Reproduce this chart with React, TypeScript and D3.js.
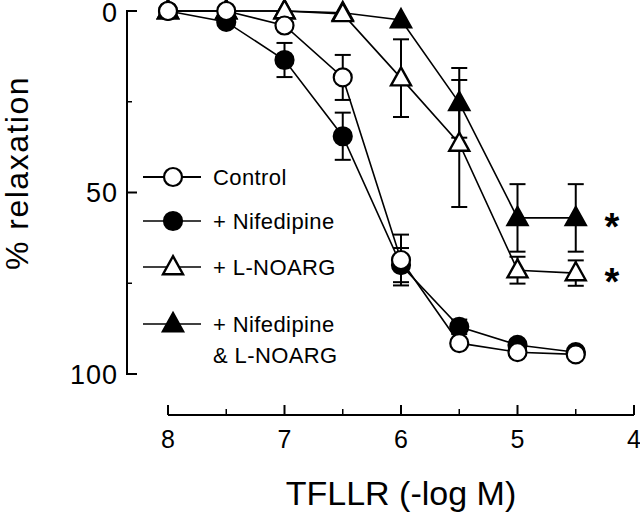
import React from 'react';
import * as d3 from 'd3';

// TFLLR concentration (-log M)
const doses = [8, 7.5, 7, 6.5, 6, 5.5, 5, 4.5];

const control = [0, 0, 4, 18.3, 68.6, 91.5, 94, 94.6];
const controlErr = [0, 0, 1, 6.2, 7, 1, 1, 1];

const nifedipine = [0, 3, 13.5, 34.5, 70, 87, 92, 94];
const nifedipineErr = [0, 0.5, 4.7, 6.5, 4.7, 2, 1.5, 1];

const lnoarg = [0, 0, 0, 0.8, 18.5, 36.5, 71.4, 72.2];
const lnoargErr = [0, 0, 0, 0, 10.7, 17.5, 3.7, 3.5];

const nifLnoarg = [0, 0, 0, 0.5, 2.5, 25.3, 57, 57];
const nifLnoargErr = [0, 0, 0, 0, 0, 9.6, 9.3, 9.3];

const xTicks = [8, 7, 6, 5, 4];
const xMinorTicks = [7.5, 6.5, 5.5, 4.5];
const yTicks = [0, 50, 100];
const yMinorTicks = [25, 75];

type Marker = 'openCircle' | 'filledCircle' | 'openTriangle' | 'filledTriangle';

interface Series {
  name: string[];
  values: number[];
  errors: number[];
  marker: Marker;
}

const series: Series[] = [
  { name: ['+ Nifedipine', '& L-NOARG'], values: nifLnoarg, errors: nifLnoargErr, marker: 'filledTriangle' },
  { name: ['+ L-NOARG'], values: lnoarg, errors: lnoargErr, marker: 'openTriangle' },
  { name: ['+ Nifedipine'], values: nifedipine, errors: nifedipineErr, marker: 'filledCircle' },
  { name: ['Control'], values: control, errors: controlErr, marker: 'openCircle' },
];

const legendOrder: Series[] = [series[3], series[2], series[1], series[0]];

const significant = [nifLnoarg[7], lnoarg[7]];

const FONT = '"Liberation Sans", Arial, Helvetica, sans-serif';

const MarkerShape = ({ x, y, marker }: { x: number; y: number; marker: Marker }) => {
  if (marker === 'openCircle' || marker === 'filledCircle') {
    return (
      <circle
        cx={x}
        cy={y}
        r={9}
        fill={marker === 'openCircle' ? '#fff' : '#000'}
        stroke="#000"
        strokeWidth={2.2}
      />
    );
  }
  const h = 18;
  const w = 20;
  const d = `M${x},${y - h * 0.6}L${x + w / 2},${y + h * 0.4}L${x - w / 2},${y + h * 0.4}Z`;
  return (
    <path
      d={d}
      fill={marker === 'openTriangle' ? '#fff' : '#000'}
      stroke="#000"
      strokeWidth={2.4}
      strokeLinejoin="miter"
    />
  );
};

export default function App() {
  const width = 640;
  const height = 514;

  const x = d3.scaleLinear().domain([8, 4]).range([168, 634]);
  const y = d3.scaleLinear().domain([0, 100]).range([11, 374]);

  const axisX = 127;
  const axisY = 415;

  const line = d3
    .line<number>()
    .x((_, i) => x(doses[i]))
    .y((d) => y(d));

  const legendY = [177, 221, 267, 324];

  return (
    <div style={{ position: 'absolute', left: 0, top: 0 }}>
      <svg width={width} height={height} style={{ display: 'block', background: '#fff' }}>
        <rect width={width} height={height} fill="#fff" />

        {/* y axis */}
        <line x1={axisX} x2={axisX} y1={y(0) - 1} y2={y(100) + 1} stroke="#000" strokeWidth={2} />
        {yTicks.map((t) => (
          <g key={`yt${t}`}>
            <line x1={axisX} x2={axisX + 10} y1={y(t)} y2={y(t)} stroke="#000" strokeWidth={2} />
            <text
              x={118}
              y={y(t) + (t === 0 ? 1 : 0)}
              dy="0.36em"
              textAnchor="end"
              fontFamily={FONT}
              fontSize={27}
              letterSpacing={1}
            >
              {t}
            </text>
          </g>
        ))}
        {yMinorTicks.map((t) => (
          <line key={`ym${t}`} x1={axisX} x2={axisX + 5} y1={y(t)} y2={y(t)} stroke="#000" strokeWidth={1.5} />
        ))}
        <text
          transform={`translate(28,${173}) rotate(-90)`}
          textAnchor="middle"
          fontFamily={FONT}
          fontSize={32}
          letterSpacing={1.5}
        >
          % relaxation
        </text>

        {/* x axis */}
        <line x1={x(8)} x2={x(4)} y1={axisY} y2={axisY} stroke="#000" strokeWidth={2} />
        {xTicks.map((t) => (
          <g key={`xt${t}`}>
            <line x1={x(t)} x2={x(t)} y1={axisY} y2={axisY - 10} stroke="#000" strokeWidth={2} />
            <text x={x(t)} y={448} textAnchor="middle" fontFamily={FONT} fontSize={25}>
              {t}
            </text>
          </g>
        ))}
        {xMinorTicks.map((t) => (
          <line key={`xm${t}`} x1={x(t)} x2={x(t)} y1={axisY} y2={axisY - 6} stroke="#000" strokeWidth={1.5} />
        ))}
        <text x={401} y={505} textAnchor="middle" fontFamily={FONT} fontSize={34}>
          TFLLR (-log M)
        </text>

        {/* data */}
        {series.map((s, si) => (
          <g key={`s${si}`}>
            <path d={line(s.values) ?? ''} fill="none" stroke="#000" strokeWidth={1.6} />
            {s.values.map((v, i) =>
              s.errors[i] > 1.5 ? (
                <g key={`e${i}`} stroke="#000" strokeWidth={2}>
                  <line x1={x(doses[i])} x2={x(doses[i])} y1={y(v - s.errors[i])} y2={y(v + s.errors[i])} />
                  <line x1={x(doses[i]) - 8} x2={x(doses[i]) + 8} y1={y(v - s.errors[i])} y2={y(v - s.errors[i])} />
                  <line x1={x(doses[i]) - 8} x2={x(doses[i]) + 8} y1={y(v + s.errors[i])} y2={y(v + s.errors[i])} />
                </g>
              ) : null
            )}
          </g>
        ))}
        {series.map((s, si) => (
          <g key={`m${si}`}>
            {s.values.map((v, i) => (
              <MarkerShape key={i} x={x(doses[i])} y={y(v)} marker={s.marker} />
            ))}
          </g>
        ))}

        {/* significance */}
        {significant.map((v, i) => (
          <text
            key={`ast${i}`}
            x={612}
            y={y(v) + 22}
            textAnchor="middle"
            fontFamily={FONT}
            fontSize={38}
            fontWeight="bold"
          >
            *
          </text>
        ))}

        {/* legend */}
        {legendOrder.map((s, i) => (
          <g key={`lg${i}`}>
            <line x1={143} x2={201} y1={legendY[i]} y2={legendY[i]} stroke="#000" strokeWidth={i === 0 ? 2 : 1.6} />
            <MarkerShape x={173} y={legendY[i]} marker={s.marker} />
            {s.name.map((n, j) => (
              <text
                key={j}
                x={213}
                y={legendY[i] + 8 + j * 31}
                fontFamily={FONT}
                fontSize={22}
                letterSpacing={0.4}
              >
                {n}
              </text>
            ))}
          </g>
        ))}
      </svg>
    </div>
  );
}
